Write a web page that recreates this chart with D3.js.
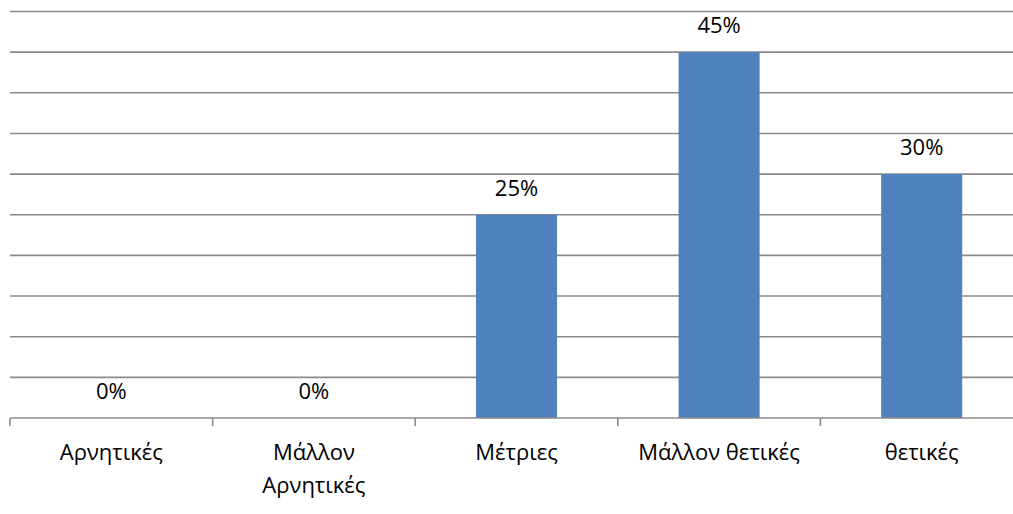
<!DOCTYPE html>
<html><head><meta charset="utf-8">
<script src="https://cdn.jsdelivr.net/npm/d3@7"></script>
<style>html,body{margin:0;padding:0;background:#fff;}svg{display:block;}</style>
</head><body>
<svg id="chart" width="1013" height="514"></svg>
<script>
const categories = [["Αρνητικές"], ["Μάλλον", "Αρνητικές"], ["Μέτριες"], ["Μάλλον θετικές"], ["θετικές"]];
const values = [0, 0, 0.25, 0.45, 0.30];
const valueLabels = ["0%", "0%", "25%", "45%", "30%"];
const gridValues = [0.05, 0.10, 0.15, 0.20, 0.25, 0.30, 0.35, 0.40, 0.45, 0.50];

const svg = d3.select("#chart");
const font = "'Open Sans', 'Noto Sans', sans-serif";
const x = d3.scaleBand().domain(d3.range(categories.length)).range([10, 1023]).paddingInner(0.6).paddingOuter(0.3);
const y = d3.scaleLinear().domain([0, 0.5]).range([418, 11.5]);
const step = x.step();

// gridlines
svg.append("g").selectAll("line").data(gridValues).join("line")
  .attr("x1", 10).attr("x2", 1023)
  .attr("y1", d => y(d)).attr("y2", d => y(d))
  .attr("stroke", "#8a8a8a").attr("stroke-width", 1.6);

// bars
svg.append("g").selectAll("rect").data(values).join("rect")
  .attr("x", (d, i) => x(i)).attr("width", x.bandwidth())
  .attr("y", d => y(d)).attr("height", d => y(0) - y(d))
  .attr("fill", "#4f81bd");

// axis line + ticks
const axis = svg.append("g");
axis.append("line").attr("x1", 10).attr("x2", 1023).attr("y1", y(0)).attr("y2", y(0))
  .attr("stroke", "#8a8a8a").attr("stroke-width", 1.6);
axis.selectAll("line.tick").data(d3.range(categories.length + 1)).join("line").attr("class", "tick")
  .attr("x1", i => 10 + i * step).attr("x2", i => 10 + i * step)
  .attr("y1", y(0)).attr("y2", y(0) + 8)
  .attr("stroke", "#8a8a8a").attr("stroke-width", 1.6);

// category labels
const lab = svg.append("g").selectAll("text").data(categories).join("text")
  .attr("text-anchor", "middle").attr("font-family", font).attr("font-size", 22).attr("fill", "#000");
lab.each(function(lines, i) {
  d3.select(this).selectAll("tspan").data(lines).join("tspan")
    .attr("x", x(i) + x.bandwidth() / 2).attr("y", (d, k) => 460 + k * 33).text(d => d);
});

// value labels
svg.append("g").selectAll("text").data(values).join("text")
  .attr("x", (d, i) => x(i) + x.bandwidth() / 2).attr("y", d => y(d) - 19)
  .attr("text-anchor", "middle").attr("font-family", font).attr("font-size", 22).attr("fill", "#000")
  .text((d, i) => valueLabels[i]);
</script>
</body></html>
